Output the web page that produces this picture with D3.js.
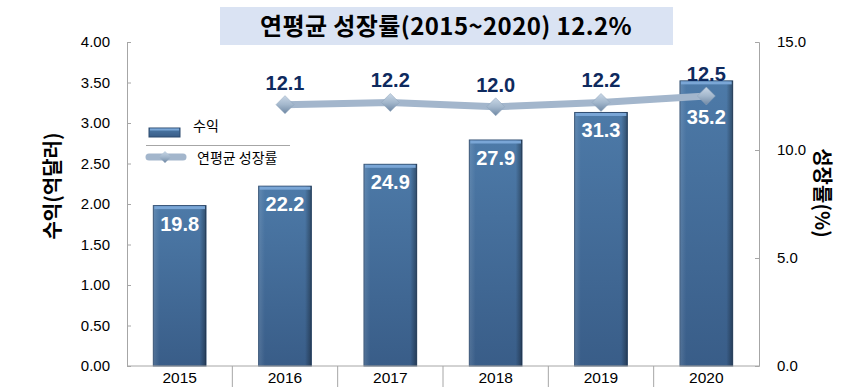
<!DOCTYPE html>
<html>
<head>
<meta charset="utf-8">
<script src="https://cdn.jsdelivr.net/npm/d3@7"></script>
<style>
  html, body { margin: 0; padding: 0; background: #fff; }
  svg { display: block; }
  text { font-family: "Liberation Sans", Arial, "Noto Sans CJK KR", sans-serif; }
  .ko { font-family: "Noto Sans CJK KR", sans-serif; }
</style>
</head>
<body>
<svg id="chart" width="846" height="387"></svg>
<script>
const years = ['2015', '2016', '2017', '2018', '2019', '2020'];
const revenue = [19.8, 22.2, 24.9, 27.9, 31.3, 35.2];
const growth = [null, 12.1, 12.2, 12.0, 12.2, 12.5];
const leftTicks = [0, 0.5, 1, 1.5, 2, 2.5, 3, 3.5, 4];
const rightTicks = [0, 5, 10, 15];
const title = '연평균 성장률(2015~2020) 12.2%';

const svg = d3.select('#chart'),
      margin = { top: 42, right: 87, bottom: 21, left: 127 },
      width = +svg.attr('width') - margin.left - margin.right,
      height = +svg.attr('height') - margin.top - margin.bottom,
      g = svg.append('g').attr('transform', `translate(${margin.left},${margin.top})`);

const x = d3.scaleBand().domain(years).range([0, width]).paddingInner(0.5).paddingOuter(0.25);
const yLeft = d3.scaleLinear().domain([0, 4]).range([height, 0]);
const yRight = d3.scaleLinear().domain([0, 15]).range([height, 0]);
const cx = d => x(d) + x.bandwidth() / 2;

// gradients
const defs = svg.append('defs');
const barGrad = defs.append('linearGradient').attr('id', 'barGrad')
  .attr('x1', 0).attr('y1', 0).attr('x2', 0).attr('y2', 1);
barGrad.append('stop').attr('offset', '0%').attr('stop-color', '#4d7aa8');
barGrad.append('stop').attr('offset', '100%').attr('stop-color', '#395d88');
const sideGrad = defs.append('linearGradient').attr('id', 'sideGrad');
sideGrad.append('stop').attr('offset', '0%').attr('stop-color', '#ffffff').attr('stop-opacity', 0.12);
sideGrad.append('stop').attr('offset', '12%').attr('stop-color', '#ffffff').attr('stop-opacity', 0);
sideGrad.append('stop').attr('offset', '88%').attr('stop-color', '#000000').attr('stop-opacity', 0);
sideGrad.append('stop').attr('offset', '100%').attr('stop-color', '#000000').attr('stop-opacity', 0.35);
const diaGrad = defs.append('linearGradient').attr('id', 'diaGrad')
  .attr('x1', 0).attr('y1', 0).attr('x2', 0).attr('y2', 1);
diaGrad.append('stop').attr('offset', '0%').attr('stop-color', '#c9d7e6');
diaGrad.append('stop').attr('offset', '50%').attr('stop-color', '#a3b7cc');
diaGrad.append('stop').attr('offset', '100%').attr('stop-color', '#6f88a4');

// title box
svg.append('rect').attr('x', 220).attr('y', 7).attr('width', 453).attr('height', 38)
  .attr('fill', '#dae3f3');
svg.append('text').attr('class', 'ko').attr('x', 446).attr('y', 35)
  .attr('text-anchor', 'middle').attr('font-size', 24).attr('font-weight', 'bold')
  .attr('letter-spacing', 0.4)
  .attr('fill', '#000').text(title);

// bars
const bars = g.append('g').selectAll('g').data(years).enter().append('g');
bars.append('rect')
  .attr('x', d => x(d))
  .attr('y', (d, i) => yLeft(revenue[i] / 10))
  .attr('width', x.bandwidth())
  .attr('height', (d, i) => height - yLeft(revenue[i] / 10))
  .attr('fill', 'url(#barGrad)')
  .attr('stroke', '#2c4a6e').attr('stroke-width', 1);
bars.append('rect')
  .attr('x', d => x(d))
  .attr('y', (d, i) => yLeft(revenue[i] / 10))
  .attr('width', x.bandwidth())
  .attr('height', (d, i) => height - yLeft(revenue[i] / 10))
  .attr('fill', 'url(#sideGrad)');
bars.append('rect')
  .attr('x', d => x(d) + 1)
  .attr('y', (d, i) => yLeft(revenue[i] / 10) + 0.5)
  .attr('width', x.bandwidth() - 2)
  .attr('height', 3)
  .attr('fill', '#7aa6d6');
bars.append('text')
  .attr('x', d => cx(d))
  .attr('y', (d, i) => {
    const top = yLeft(revenue[i] / 10) + 25;
    return growth[i] == null ? top : Math.max(top, yRight(growth[i]) + 28);
  })
  .attr('text-anchor', 'middle').attr('font-size', 20).attr('font-weight', 'bold')
  .attr('fill', '#fff')
  .text((d, i) => revenue[i].toFixed(1));

// axes
const axisColor = '#a6a6a6';
const leftAxis = g.append('g')
  .call(d3.axisLeft(yLeft).tickValues(leftTicks).tickSize(-4).tickPadding(17).tickFormat(d3.format('.2f')));
const rightAxis = g.append('g').attr('transform', `translate(${width},0)`)
  .call(d3.axisRight(yRight).tickValues(rightTicks).tickSize(-4).tickPadding(18).tickFormat(d3.format('.1f')));
[leftAxis, rightAxis].forEach(a => {
  a.select('.domain').attr('stroke', axisColor);
  a.selectAll('.tick line').attr('stroke', axisColor);
  a.selectAll('.tick text').attr('font-size', 15).attr('fill', '#000')
    .attr('font-family', '"Liberation Sans", Arial, sans-serif');
});

const xAxis = g.append('g').attr('transform', `translate(0,${height})`);
xAxis.append('line').attr('x1', 0).attr('x2', width).attr('stroke', axisColor);
xAxis.selectAll('line.sep').data(years.slice(1)).enter().append('line')
  .attr('class', 'sep')
  .attr('x1', d => x(d) - x.step() * 0.25).attr('x2', d => x(d) - x.step() * 0.25)
  .attr('y1', 0).attr('y2', 21).attr('stroke', axisColor);
xAxis.selectAll('text').data(years).enter().append('text')
  .attr('x', d => cx(d)).attr('y', 17)
  .attr('text-anchor', 'middle').attr('font-size', 15.5).attr('fill', '#000')
  .text(d => d);

// growth line
const pts = years.map((d, i) => ({ year: d, v: growth[i] })).filter(p => p.v != null);
const line = d3.line().x(p => cx(p.year)).y(p => yRight(p.v));
g.append('path').datum(pts).attr('d', line)
  .attr('fill', 'none').attr('stroke', '#a3b6cc').attr('stroke-width', 7);
const diamond = s => `M0,${-s}L${s},0L0,${s}L${-s},0Z`;
g.selectAll('path.dia').data(pts).enter().append('path')
  .attr('class', 'dia')
  .attr('d', diamond(9))
  .attr('transform', p => `translate(${cx(p.year)},${yRight(p.v)})`)
  .attr('fill', 'url(#diaGrad)').attr('stroke', '#8aa0b8').attr('stroke-width', 0.5);
g.selectAll('text.gl').data(pts).enter().append('text')
  .attr('class', 'gl')
  .attr('x', p => cx(p.year))
  .attr('y', p => yRight(p.v) - 15)
  .attr('text-anchor', 'middle').attr('font-size', 20).attr('font-weight', 'bold')
  .attr('fill', '#0e2a5e')
  .text(p => p.v.toFixed(1));

// axis titles
svg.append('text').attr('class', 'ko')
  .attr('transform', 'translate(60,186) rotate(-90)')
  .attr('text-anchor', 'middle').attr('font-size', 20).attr('font-weight', 'bold')
  .text('수익(억달러)');
svg.append('text').attr('class', 'ko')
  .attr('transform', 'translate(815,193) rotate(90)')
  .attr('text-anchor', 'middle').attr('font-size', 20).attr('font-weight', 'bold')
  .text('성장률(%)');

// legend
const legend = svg.append('g');
legend.append('rect').attr('x', 149).attr('y', 128).attr('width', 31).attr('height', 9)
  .attr('fill', 'url(#barGrad)').attr('stroke', '#2c4a6e').attr('stroke-width', 1);
legend.append('rect').attr('x', 150).attr('y', 128.5).attr('width', 29).attr('height', 2)
  .attr('fill', '#7aa6d6');
legend.append('text').attr('class', 'ko').attr('x', 193).attr('y', 131)
  .attr('font-size', 14).text('수익');
legend.append('line').attr('x1', 146).attr('x2', 290).attr('y1', 145.5).attr('y2', 145.5)
  .attr('stroke', '#a6a6a6');
legend.append('line').attr('x1', 149).attr('x2', 183).attr('y1', 157).attr('y2', 157)
  .attr('stroke', '#a3b6cc').attr('stroke-width', 7).attr('stroke-linecap', 'round');
legend.append('path').attr('d', diamond(6)).attr('transform', 'translate(165,157)')
  .attr('fill', 'url(#diaGrad)');
legend.append('text').attr('class', 'ko').attr('x', 197).attr('y', 163)
  .attr('font-size', 14).text('연평균 성장률');
</script>
</body>
</html>
